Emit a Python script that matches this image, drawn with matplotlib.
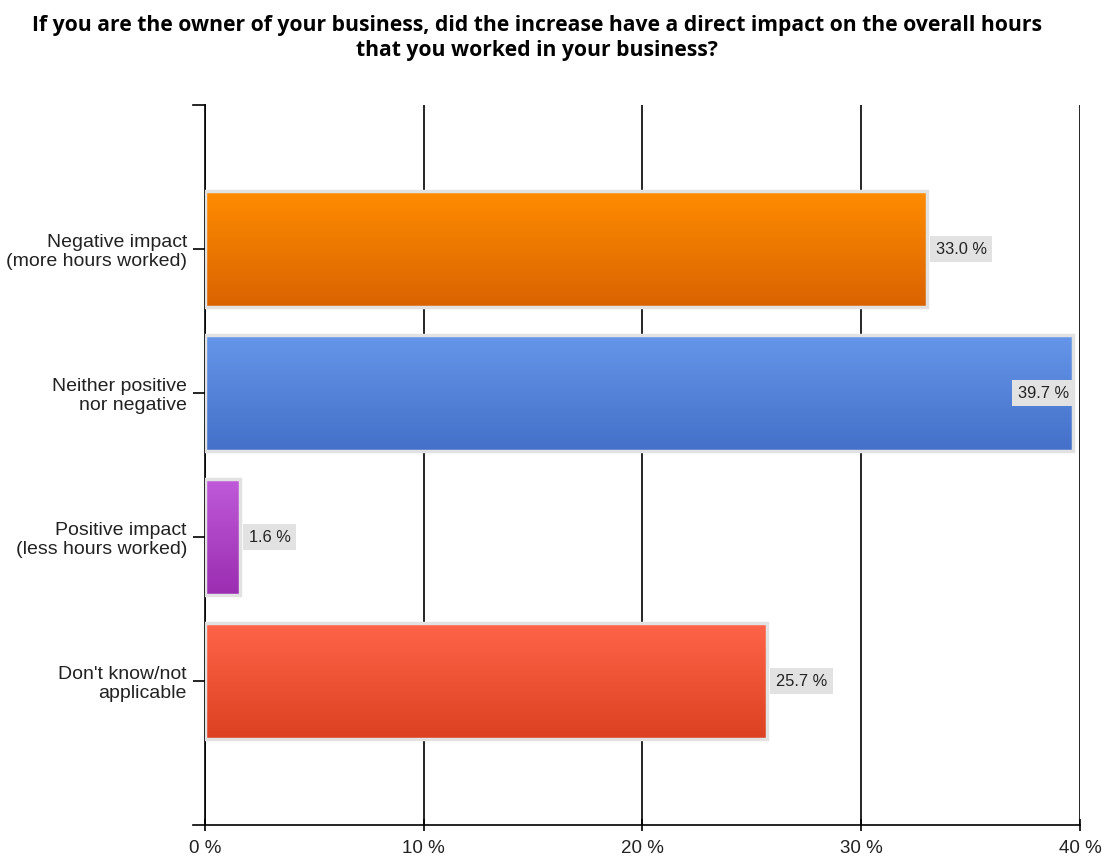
import matplotlib
matplotlib.use("Agg")
import matplotlib.pyplot as plt
import numpy as np
from matplotlib.colors import LinearSegmentedColormap

plt.rcParams['font.family'] = ['Liberation Sans', 'DejaVu Sans']

# survey answers and their shares
categories = ["Negative impact\n(more hours worked)",
              "Neither positive\nnor negative",
              "Positive impact\n(less hours worked)",
              "Don't know/not\napplicable"]
shares = [33.0, 39.7, 1.6, 25.7]
# gradient top/bottom colours for each bar
top_colors = ["#ff8c00", "#6596e9", "#bf5ad9", "#ff6449"]
bottom_colors = ["#da6300", "#4470c9", "#9b2db1", "#dc4121"]
xticks = [0, 10, 20, 30, 40]

fig = plt.figure(figsize=(11.02, 8.56), dpi=100)
ax = fig.add_axes([0.186, 0.0362, 0.794, 0.8411])

ypos = np.arange(1, len(categories) + 1)
h = 0.8
ax.set_xlim(0, 40)
ax.set_ylim(5, 0)

for y, v, c0, c1 in zip(ypos, shares, top_colors, bottom_colors):
    cmap = LinearSegmentedColormap.from_list("g", [c0, c1])
    grad = np.linspace(0, 1, 64).reshape(-1, 1)
    ax.imshow(grad, cmap=cmap, aspect='auto', zorder=3,
              extent=(0, v, y + h / 2, y - h / 2), interpolation='bicubic')
    ax.barh(y, v, height=h, facecolor='none', edgecolor='#e2e2e2',
            linewidth=2.5, zorder=4)
    # value label in a grey box
    txt = "%.1f %%" % v
    if v > 38:
        ax.text(v - 0.2, y, txt, ha='right', va='center', fontsize=11.8,
                color='#222222', zorder=6,
                bbox=dict(boxstyle='square,pad=0.35', fc='#e2e2e2', ec='none'))
    else:
        ax.text(v + 0.4, y, txt, ha='left', va='center', fontsize=11.8,
                color='#222222', zorder=6,
                bbox=dict(boxstyle='square,pad=0.35', fc='#e2e2e2', ec='none'))

ax.set_xticks(xticks)
ax.set_xticklabels(["%d %%" % t for t in xticks], fontsize=13.5, color='#222222')
ax.set_yticks(ypos)
ax.set_yticklabels(categories, fontsize=14, color='#222222', linespacing=1.15)
ax.grid(axis='x', color='black', linewidth=1.2, zorder=1)
ax.set_axisbelow(True)

for s in ['top', 'right']:
    ax.spines[s].set_visible(False)
ax.spines['left'].set_linewidth(1.2)
ax.spines['bottom'].set_linewidth(1.2)
ax.tick_params(axis='x', length=9, width=1.2, pad=6, direction='inout')
ax.tick_params(axis='y', length=9, width=1.2, pad=4)
# small caps at the ends of the category axis
ax.plot([-0.55, 0], [0, 0], color='black', lw=1.2, clip_on=False)
ax.plot([-0.55, 0], [5, 5], color='black', lw=1.2, clip_on=False)

fig.text(0.487, 0.983,
         "If you are the owner of your business, did the increase have a direct impact on the overall hours\n"
         "that you worked in your business?",
         ha='center', va='top', fontsize=15.2, fontweight='bold', linespacing=1.3,
         family=['Open Sans', 'DejaVu Sans'])

fig.savefig("out.png", dpi=100)
